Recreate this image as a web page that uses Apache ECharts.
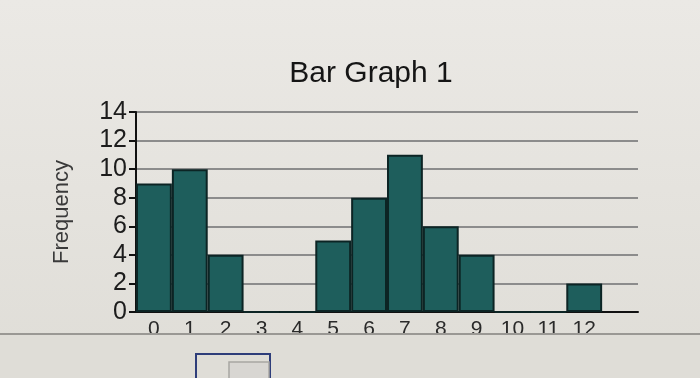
<!DOCTYPE html>
<html><head><meta charset="utf-8">
<script src="https://cdn.jsdelivr.net/npm/echarts@6/dist/echarts.min.js"></script>
<style>html,body{margin:0;padding:0;background:#e4e2dd}#c{width:700px;height:378px}</style>
</head><body><div id="c"></div>
<script>
var categories = ['0','1','2','3','4','5','6','7','8','9','10','11','12',''];
var frequency = [9,10,4,0,0,5,8,11,6,4,0,0,2];
var yTicks = [0,2,4,6,8,10,12,14];

var chart = echarts.init(document.getElementById('c'));
chart.setOption({
  backgroundColor: {type: 'linear', x: 0, y: 0, x2: 0, y2: 1,
    colorStops: [{offset: 0, color: '#ebe9e5'}, {offset: 1, color: '#dfddd7'}]},
  animation: false,
  title: {
    text: 'Bar Graph 1', left: 366, top: 54, textAlign: 'center',
    textStyle: {fontFamily: 'Liberation Sans', fontSize: 30, fontWeight: 'normal', color: '#151515'}
  },
  grid: {left: 136, top: 112, right: 62, bottom: 66},
  xAxis: {
    type: 'category', data: categories, boundaryGap: true,
    axisLine: {lineStyle: {color: '#111', width: 2}},
    axisTick: {show: false},
    axisLabel: {interval: 0, margin: 7, fontFamily: 'Liberation Sans', fontSize: 21, color: '#2a2a2a'}
  },
  yAxis: {
    type: 'value', min: yTicks[0], max: yTicks[yTicks.length-1], interval: 2,
    name: 'Frequency', nameLocation: 'middle', nameGap: 63, nameRotate: 90,
    nameTextStyle: {fontFamily: 'Liberation Sans', fontSize: 22, color: '#3a3a3a'},
    axisLine: {show: true, lineStyle: {color: '#111', width: 2}},
    axisTick: {show: true, length: 7, lineStyle: {color: '#111', width: 2}},
    axisLabel: {margin: 9, fontFamily: 'Liberation Sans', fontSize: 25, color: '#1c1c1c'},
    splitLine: {lineStyle: {color: '#8c8c8c', width: 2}}
  },
  series: [{
    type: 'bar', data: frequency, barCategoryGap: '0%',
    itemStyle: {color: '#1e5e5c', borderColor: '#0c2424', borderWidth: 2}
  }],
  graphic: [
    {type: 'rect', z: 100, shape: {x: 0, y: 334, width: 700, height: 44}, style: {fill: '#dfddd7'}},
    {type: 'line', z: 101, shape: {x1: 0, y1: 334, x2: 700, y2: 334}, style: {stroke: '#9a9894', lineWidth: 2}},
    {type: 'rect', z: 102, shape: {x: 196, y: 354, width: 74, height: 30}, style: {fill: 'transparent', stroke: '#2e3d7a', lineWidth: 2}},
    {type: 'rect', z: 102, shape: {x: 229, y: 362, width: 40, height: 20}, style: {fill: '#d8d6d2', stroke: '#a8a6a2', lineWidth: 1.5}}
  ]
});
</script></body></html>
